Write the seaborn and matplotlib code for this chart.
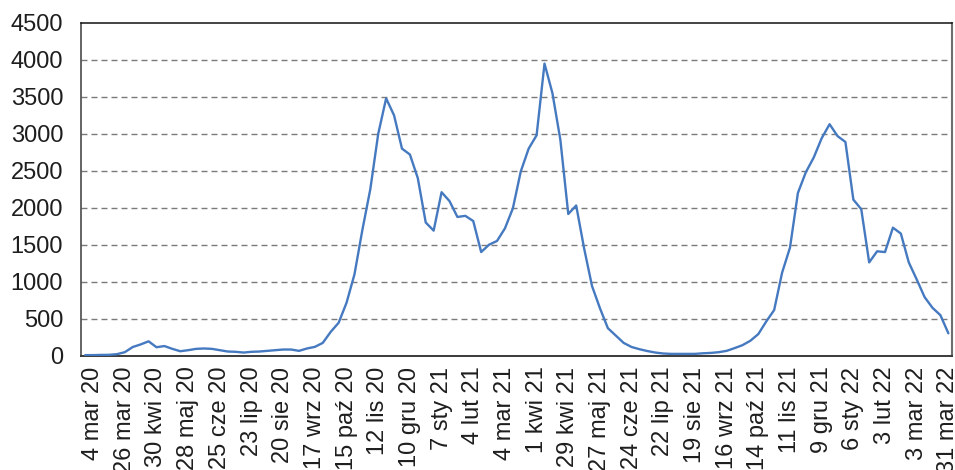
import matplotlib
matplotlib.use("Agg")
import matplotlib.pyplot as plt
import seaborn as sns
import pandas as pd

# Weekly counts, one value per week
values = [
    5, 5, 8, 9, 18, 45, 115, 150, 192, 112,
    128, 90, 58, 72, 90, 95, 90, 72, 54, 50,
    40, 50, 54, 63, 72, 81, 81, 63, 95, 117,
    171, 320, 443, 714, 1098, 1700, 2250, 3000, 3480, 3250,
    2800, 2720, 2400, 1800, 1690, 2210, 2090, 1875, 1890, 1820,
    1400, 1500, 1550, 1720, 1990, 2490, 2800, 2980, 3950, 3550,
    2920, 1915, 2030, 1450, 940, 640, 370, 270, 170, 115,
    85, 60, 40, 27, 22, 22, 22, 22, 30, 35,
    45, 63, 100, 140, 200, 290, 460, 615, 1120, 1460,
    2200, 2480, 2680, 2940, 3130, 2970, 2890, 2110, 1980, 1260,
    1410, 1400, 1730, 1650, 1260, 1030, 790, 645, 545, 300,
]

# Date labels shown on every fourth week
tick_labels = [
    "4 mar 20", "26 mar 20", "30 kwi 20", "28 maj 20", "25 cze 20",
    "23 lip 20", "20 sie 20", "17 wrz 20", "15 paź 20", "12 lis 20",
    "10 gru 20", "7 sty 21", "4 lut 21", "4 mar 21", "1 kwi 21",
    "29 kwi 21", "27 maj 21", "24 cze 21", "22 lip 21", "19 sie 21",
    "16 wrz 21", "14 paź 21", "11 lis 21", "9 gru 21", "6 sty 22",
    "3 lut 22", "3 mar 22", "31 mar 22",
]
tick_positions = list(range(1, len(values), 4))

y_ticks = list(range(0, 4501, 500))

sns.set_style("white")
plt.rcParams["font.family"] = ["Liberation Sans", "DejaVu Sans"]

df = pd.DataFrame({"week": range(len(values)), "count": values})

fig = plt.figure(figsize=(9.55, 4.70), dpi=100)
ax = fig.add_axes([0.0851, 0.2436, 0.9121, 0.7075])

sns.lineplot(data=df, x="week", y="count", ax=ax, color="#4579c0",
             linewidth=1.7, zorder=3)

ax.set_xlim(-0.5, len(values) - 0.5)
ax.set_ylim(0, 4500)
ax.set_yticks(y_ticks)
ax.set_yticklabels([str(v) for v in y_ticks])
ax.set_xticks(tick_positions)
ax.set_xticklabels(tick_labels, rotation=90, ha="center", va="top")
ax.tick_params(axis="both", length=0, labelsize=17, colors="#1e1e1e")
ax.tick_params(axis="y", pad=13)
ax.tick_params(axis="x", pad=8)
ax.set_xlabel("")
ax.set_ylabel("")

for v in y_ticks[1:-1]:
    ax.axhline(v, color="#7a7a7a", linewidth=1.0, linestyle=(0, (4.3, 2.9)),
               zorder=1)

ax.spines["left"].set_color("#3a3a3a")
ax.spines["bottom"].set_color("#3a3a3a")
ax.spines["top"].set_color("#111111")
ax.spines["right"].set_color("#6e6e6e")
for s in ax.spines.values():
    s.set_linewidth(1.1)
ax.spines["bottom"].set_linewidth(1.4)
ax.spines["right"].set_linewidth(1.5)

fig.savefig("out.png", dpi=100)
